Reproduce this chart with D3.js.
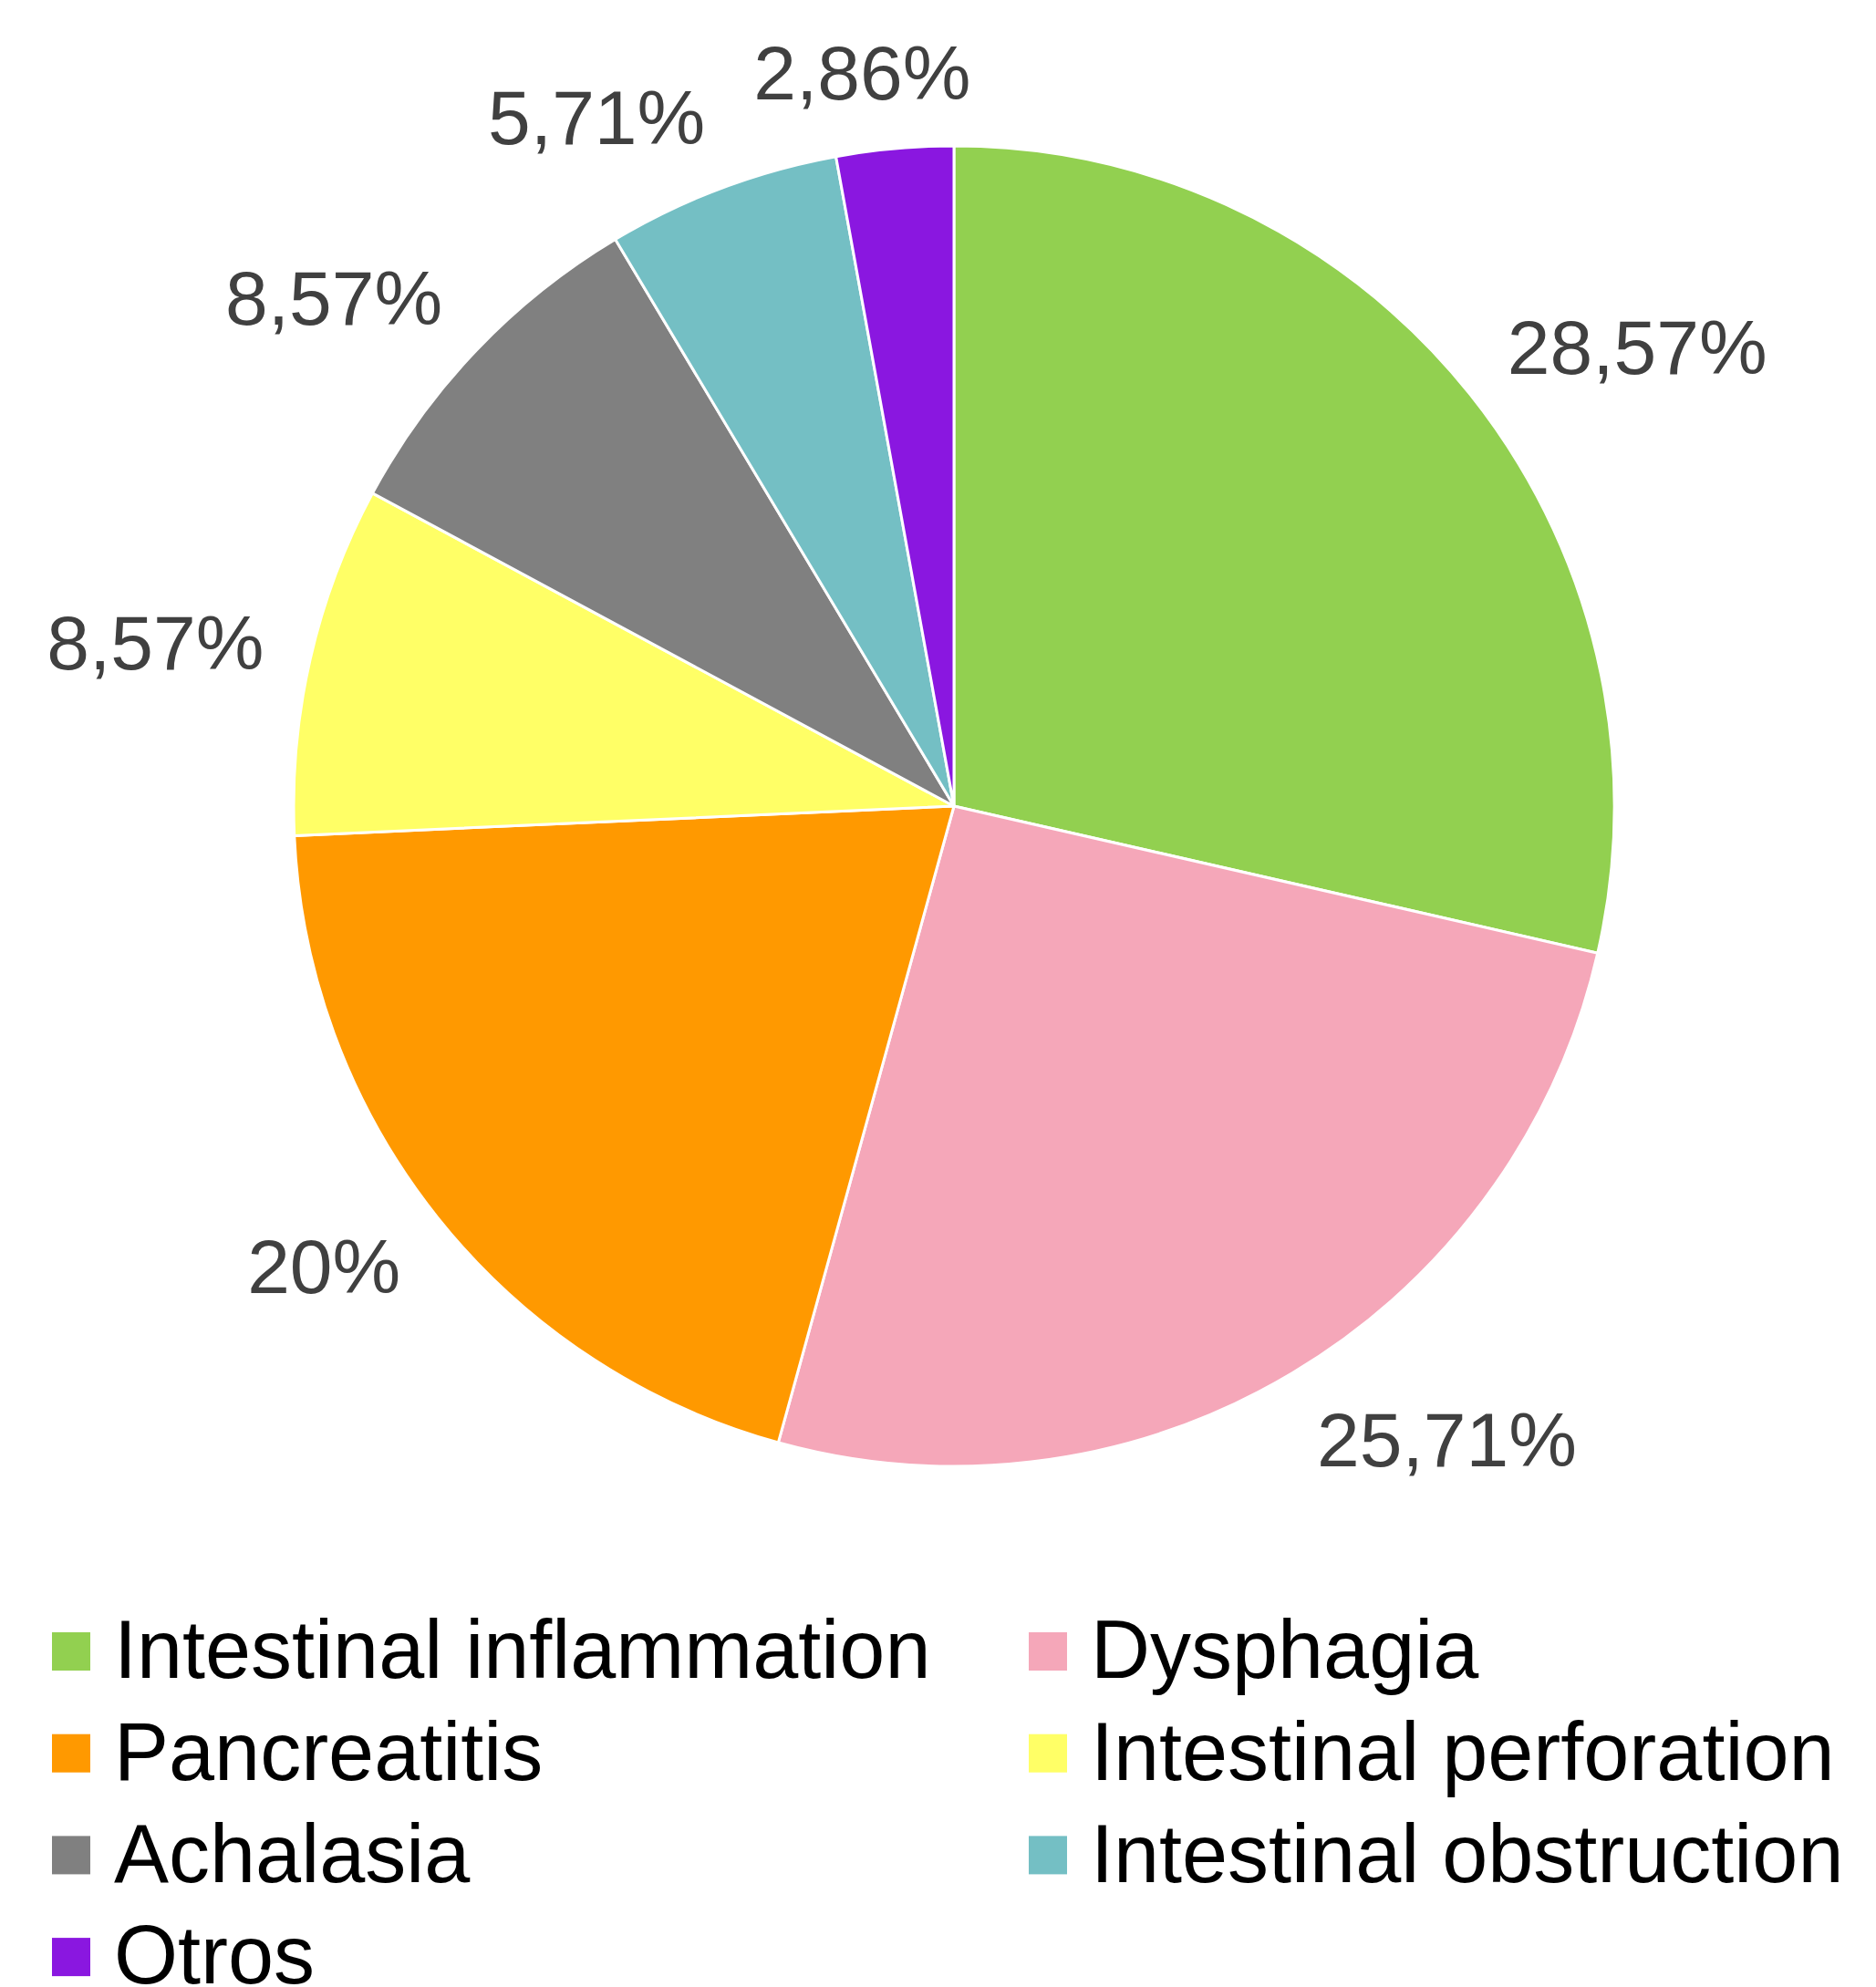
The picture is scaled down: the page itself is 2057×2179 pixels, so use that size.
<!DOCTYPE html>
<html>
<head>
<meta charset="utf-8">
<script src="https://cdn.jsdelivr.net/npm/d3@7"></script>
<style>
  html, body { margin: 0; padding: 0; background: #fff; }
  svg { display: block; font-family: Arial, 'Liberation Sans', sans-serif; }
</style>
</head>
<body>
<svg id="chart"></svg>
<script>
const categories = [
  'Intestinal inflammation',
  'Dysphagia',
  'Pancreatitis',
  'Intestinal perforation',
  'Achalasia',
  'Intestinal obstruction',
  'Otros',
]
const values = [28.57, 25.71, 20, 8.57, 8.57, 5.71, 2.86]
const labels = ['28,57%', '25,71%', '20%', '8,57%', '8,57%', '5,71%', '2,86%']
const colors = ['#92d050', '#f5a7b9', '#ff9900', '#ffff66', '#808080', '#74bfc4', '#8a17e0']

const W = 2057
const H = 2179
const cx = 1046
const cy = 884
const radius = 724

const svg = d3.select('#chart').attr('width', W).attr('height', H)

const data = categories.map((name, i) => ({ name, value: values[i], label: labels[i], color: colors[i] }))

const pie = d3.pie().value(d => d.value).sort(null)
const arc = d3.arc().innerRadius(0).outerRadius(radius)
const arcs = pie(data)

const g = svg.append('g').attr('transform', `translate(${cx},${cy})`)

g.selectAll('path.slice')
  .data(arcs)
  .enter()
  .append('path')
  .attr('class', 'slice')
  .attr('d', arc)
  .attr('fill', d => d.data.color)
  .attr('stroke', '#fff')
  .attr('stroke-width', 3)
  .attr('stroke-linejoin', 'round')

// labels outside the end, pushed away from the pie by their own box
const fontSize = 84
const gap = 52
const labelG = g.append('g')
labelG.selectAll('text')
  .data(arcs)
  .enter()
  .append('text')
  .text(d => d.data.label)
  .attr('font-size', fontSize)
  .attr('fill', '#404040')
  .attr('text-anchor', 'middle')
  .each(function (d) {
    const a = (d.startAngle + d.endAngle) / 2
    const s = Math.sin(a)
    const c = Math.cos(a)
    const w = this.getComputedTextLength()
    const hx = (w / 2) * Math.max(-1, Math.min(1, s * 2.9))
    const hy = 32
    const x = (radius + gap) * s + hx
    const y = -(radius + gap) * c - c * hy
    d3.select(this)
      .attr('x', x)
      .attr('y', y)
      .attr('dy', `${0.358 * fontSize}px`)
  })

// legend
const legendFont = 90
const rowH = 111.7
const colX = [57, 1128]
const legendTop = 1790
const sw = 42

const legend = svg.append('g').attr('class', 'legend')
const items = legend.selectAll('g.item')
  .data(data)
  .enter()
  .append('g')
  .attr('class', 'item')
  .attr('transform', (d, i) => `translate(${colX[i % 2]},${legendTop + Math.floor(i / 2) * rowH})`)

items.append('rect')
  .attr('width', sw)
  .attr('height', sw)
  .attr('fill', d => d.color)

items.append('text')
  .text(d => d.name)
  .attr('x', 68)
  .attr('y', sw / 2 + 0.358 * legendFont - 3)
  .attr('font-size', legendFont)
  .attr('fill', '#000')
</script>
</body>
</html>
